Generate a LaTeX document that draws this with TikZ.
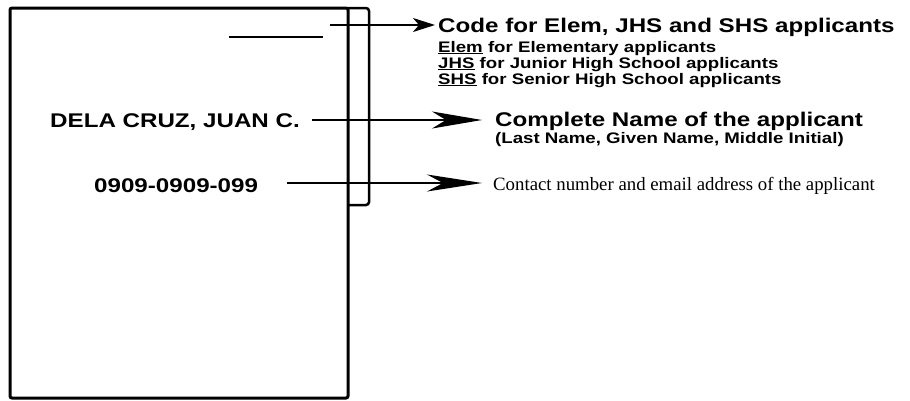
\documentclass[tikz,border=0pt]{standalone}
\usepackage{fontspec}
\setmainfont{Liberation Serif}
\newfontfamily\widesans[FakeStretch=1.22]{Liberation Sans}
\usetikzlibrary{arrows.meta}

\tikzset{
  bigtxt/.style={font=\widesans\bfseries\fontsize{19.8}{21}\selectfont, inner sep=0pt},
  smalltxt/.style={font=\widesans\bfseries\fontsize{15.3}{16}\selectfont, inner sep=0pt},
  plaintxt/.style={font=\fontsize{18.8}{20}\selectfont, inner sep=0pt},
  pointer/.style={line width=2pt},
}

\begin{document}
\begin{tikzpicture}[x=1pt, y=-1pt]
\useasboundingbox (0,0) rectangle (910,400);

% ---- (1) form card and side strip -----------------------------
\draw[line width=3pt, rounded corners=2pt] (10,8) rectangle (348,398);
\draw[line width=2.5pt, rounded corners=3pt]
   (348,8) -- (369,8) -- (369,205) -- (348,205);
\draw[line width=1.6pt] (229,37) -- (323,37);

% ---- (2) entries on the card -----------------------------------
\node[bigtxt, anchor=base west] (dela) at (50,127) {DELA CRUZ, JUAN C.};
\node[bigtxt, anchor=base west] (phone) at (94,192) {0909-0909-099};

% ---- (3) explanations ------------------------------------------
\node[bigtxt, anchor=base west] (code) at (438,32)
     {Code for Elem, JHS and SHS applicants};
\node[smalltxt, anchor=base west] (elem) at (438,52)
     {\underline{Elem} for Elementary applicants};
\node[smalltxt, anchor=base west] (jhs) at (438,68)
     {\underline{JHS} for Junior High School applicants};
\node[smalltxt, anchor=base west] (shs) at (438,84)
     {\underline{SHS} for Senior High School applicants};
\node[bigtxt, anchor=base west] (fullname) at (495,126)
     {Complete Name of the applicant};
\node[smalltxt, anchor=base west] (order) at (495,143)
     {(Last Name, Given Name, Middle Initial)};
\node[plaintxt, anchor=base west] (contact) at (493,190)
     {Contact number and email address of the applicant};

% ---- (4) pointers ----------------------------------------------
\coordinate (codefrom) at (330,25);
\coordinate (codeto)   at (435,25);
\coordinate (namefrom) at (312,120);
\coordinate (nameto)   at (482,120);
\coordinate (phonefrom) at (287,183);
\coordinate (phoneto)   at (482,183);

\draw[pointer, -{Stealth[length=22pt, width=14pt, inset=6pt]}]
     (codefrom) -- (codeto);
\draw[pointer, -{Stealth[length=50pt, width=17pt, inset=14pt]}]
     (namefrom) -- (nameto);
\draw[pointer, -{Stealth[length=55pt, width=17pt, inset=16pt]}]
     (phonefrom) -- (phoneto);

\end{tikzpicture}
\end{document}
